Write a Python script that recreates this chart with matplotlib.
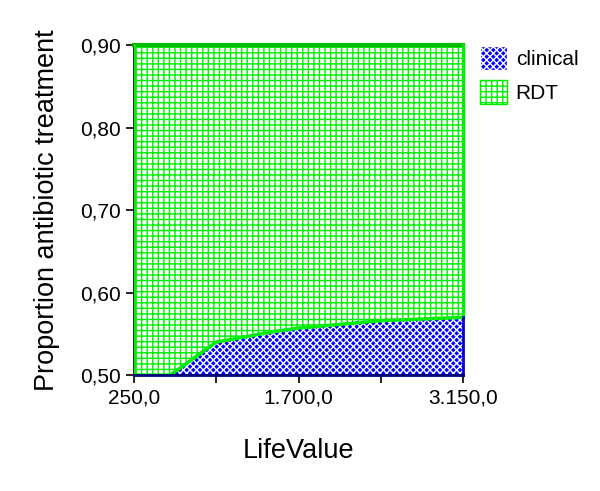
import numpy as np
import matplotlib.pyplot as plt
from matplotlib.patches import Patch

plt.rcParams['font.family'] = ['Liberation Sans', 'DejaVu Sans']
plt.rcParams['hatch.linewidth'] = 1.0

life_value = [250, 570, 975, 1450, 1700, 2425, 3150]
clinical = [0.500, 0.500, 0.540, 0.552, 0.557, 0.566, 0.570]
y_top = 0.90
y_bottom = 0.50

x_ticks = [250, 1700, 3150]
x_tick_labels = ['250,0', '1.700,0', '3.150,0']
x_minor = [975, 2425]
y_ticks = [0.50, 0.60, 0.70, 0.80, 0.90]
y_tick_labels = ['0,50', '0,60', '0,70', '0,80', '0,90']

fig = plt.figure(figsize=(6, 4.91), dpi=100)
ax = fig.add_axes([0.223, 0.236, 0.549, 0.672])

x = np.array(life_value)
c = np.array(clinical)

ax.fill_between(x, y_bottom, c, facecolor='#0000ff', edgecolor='white',
                hatch='xxxxx', linewidth=0)
ax.fill_between(x, c, y_top, facecolor='white', edgecolor='#00ee00',
                hatch='+++', linewidth=0)
ax.plot(x, c, color='#00ee00', lw=2.5, zorder=3)
ax.plot([x[0], x[-1]], [y_top, y_top], color='#00bb00', lw=3, zorder=3, clip_on=False)
ax.plot([x[-1], x[-1]], [c[-1], y_top], color='#00ee00', lw=2.5, zorder=3, clip_on=False)
ax.plot([x[0], x[0]], [y_bottom, y_top], color='#00ee00', lw=2.5, zorder=3)
ax.plot([x[-1], x[-1]], [y_bottom, c[-1]], color='#0000cc', lw=2, zorder=3, clip_on=False)
ax.plot([x[0], x[-1]], [y_bottom, y_bottom], color='#000080', lw=2, zorder=3, clip_on=False)

ax.set_xlim(250, 3150)
ax.set_ylim(y_bottom, y_top)
ax.set_xticks(x_ticks)
ax.set_xticklabels(x_tick_labels)
ax.set_xticks(x_minor, minor=True)
ax.set_yticks(y_ticks)
ax.set_yticklabels(y_tick_labels)
ax.tick_params(axis='both', which='major', labelsize=15, length=6, width=1.2, color='black')
ax.tick_params(axis='x', which='minor', length=6, width=1.2)

for side in ['top', 'right']:
    ax.spines[side].set_visible(False)
ax.spines['left'].set_linewidth(1.2)
ax.spines['bottom'].set_linewidth(1.2)

ax.set_xlabel('LifeValue', fontsize=19.5, labelpad=22)
ax.set_ylabel('Proportion antibiotic treatment', fontsize=19.5, labelpad=14)

handles = [Patch(facecolor='#0000ff', edgecolor='white', hatch='xxxxx', label='clinical'),
           Patch(facecolor='white', edgecolor='#00ee00', hatch='+++', label='RDT')]
leg = ax.legend(handles=handles, loc='upper left', bbox_to_anchor=(0.995, 1.055),
                frameon=False, fontsize=15, handlelength=1.3, handleheight=1.4,
                handletextpad=0.4, labelspacing=0.5)

fig.savefig('out.png', dpi=100)
